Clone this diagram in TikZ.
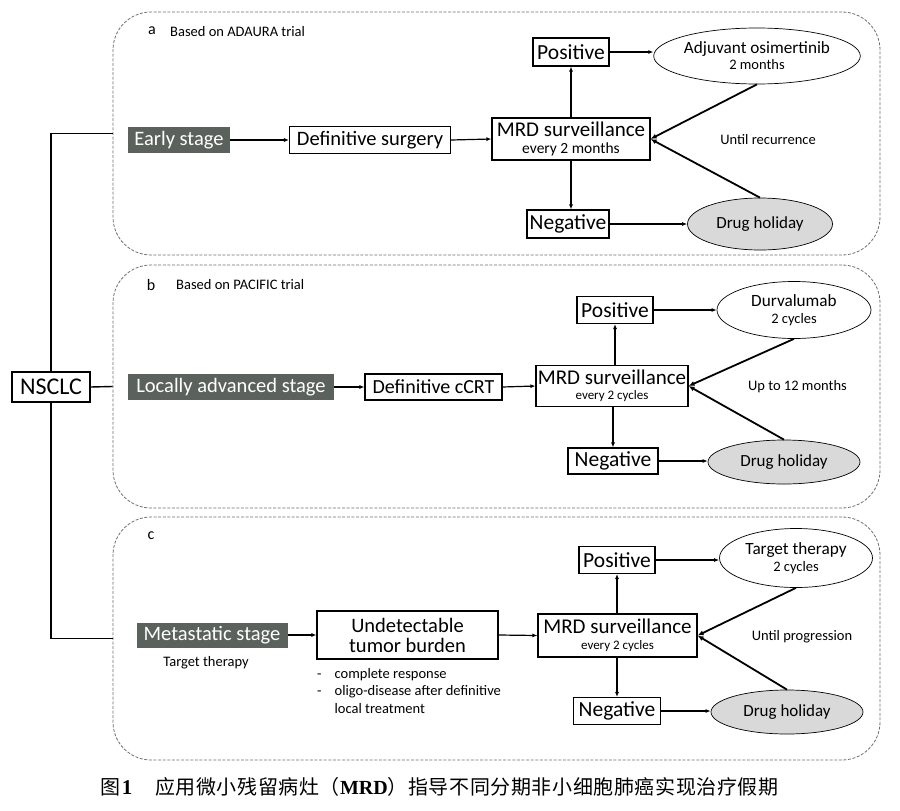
\documentclass[tikz,border=0pt]{standalone}
\usepackage{fontspec}
\setmainfont{Carlito}
\newfontfamily\cjk{Noto Sans CJK SC}
\newfontfamily\capserif{Liberation Serif}
\usetikzlibrary{shapes.geometric,arrows.meta,calc}
\definecolor{stagegrey}{HTML}{5B625E}
\definecolor{holidaygrey}{HTML}{D9D9D9}
\definecolor{dashgrey}{HTML}{6E6E6E}
\newcommand{\fs}[1]{\fontsize{#1}{#1}\selectfont}
\newcommand{\fsb}[2]{\fontsize{#1}{#2}\selectfont}
\tikzset{
  panel/.style={draw=dashgrey, dash pattern=on 3pt off 1.6pt, rounded corners=38pt, line width=0.8pt, inner sep=0},
  stagebox/.style={fill=stagegrey, text=white, inner sep=0, font=\fs{20.5}},
  plainbox/.style={draw, line width=1.1pt, inner sep=0, align=center},
  oval/.style={ellipse, draw, line width=0.7pt, inner sep=0, align=center},
  holiday/.style={oval, fill=holidaygrey, font=\fs{17}},
  arr/.style={-{Latex[length=5pt,width=4pt]}, line width=1.2pt},
  diag/.style={-{Latex[length=6pt,width=5pt]}, line width=1.8pt},
  link/.style={line width=1.4pt},
  small/.style={inner sep=0, font=\fs{14}},
}
\begin{document}
\begin{tikzpicture}[x=1pt,y=-1pt]
\useasboundingbox (0,0) rectangle (900,811);

% panels
\node[panel, minimum width=767pt, minimum height=243pt] (pa) at (496.5,133.5) {};
\node[panel, minimum width=767pt, minimum height=243pt] (pb) at (496.5,386.5) {};
\node[panel, minimum width=767pt, minimum height=243pt] (pc) at (496.5,638.5) {};

% NSCLC
\node[plainbox, minimum width=78pt, minimum height=30pt, font=\fs{24}] (nsclc) at (51,387) {NSCLC};
\draw[link] (nsclc.north) |- (pa.west);
\draw[link] (nsclc.east) -- (pb.west);
\draw[link] (nsclc.south) |- (pc.west);

% ---------- panel a
\node[inner sep=0, font=\fs{16}] (la) at (152,31) {a};
\node[small, anchor=west, font=\fs{14.5}] (ta) at (170,32) {Based on ADAURA trial};
\node[stagebox, minimum width=102pt, minimum height=26pt] (es) at (179,140) {Early stage};
\node[plainbox, minimum width=161pt, minimum height=27pt, font=\fs{20.5}] (ds) at (370,140) {Definitive surgery};
\node[plainbox, minimum width=158pt, minimum height=42pt, font=\fsb{15.5}{16.5}] (mrda) at (571,139) {{\fs{21}MRD surveillance}\\every 2 months};
\node[plainbox, minimum width=76pt, minimum height=28pt, font=\fs{21.5}] (posa) at (571,52) {Positive};
\node[oval, minimum width=191pt, minimum height=56pt, font=\fsb{14.5}{16}] (adj) at (757,56) {{\fs{17.2}Adjuvant osimertinib}\\2 months};
\node[plainbox, minimum width=82pt, minimum height=28pt, font=\fs{21.5}] (nega) at (568,224) {Negative};
\node[holiday, minimum width=145pt, minimum height=52pt] (dha) at (760,224) {Drug holiday};
\node[small, font=\fs{14.5}] (ua) at (768,140) {Until recurrence};
\draw[arr] (es.east) -- (ds.west);
\draw[arr] (ds.east) -- (mrda.west);
\draw[arr] (mrda.north) -- (mrda.north |- posa.south);
\draw[arr] (mrda.south) -- (mrda.south |- nega.north);
\draw[arr] (posa.east) -- (posa.east -| adj.west);
\draw[arr] (nega.east) -- (nega.east -| dha.west);
\draw[diag] (adj.south) -- (mrda.east);
\draw[diag] (dha.north) -- (mrda.east);

% ---------- panel b
\node[inner sep=0, font=\fs{16}] (lb) at (151,285) {b};
\node[small, anchor=west, font=\fs{14.5}] (tb) at (176,285) {Based on PACIFIC trial};
\node[stagebox, minimum width=206pt, minimum height=26pt] (las) at (231,387) {Locally advanced stage};
\node[plainbox, minimum width=137pt, minimum height=26pt, font=\fs{20}] (dcrt) at (433.5,387) {Definitive cCRT};
\node[plainbox, minimum width=152pt, minimum height=41pt, font=\fsb{13}{15.5}] (mrdb) at (612,386) {{\fs{21}MRD surveillance}\\every 2 cycles};
\node[plainbox, minimum width=76pt, minimum height=27pt, font=\fs{21.5}] (posb) at (615,310) {Positive};
\node[oval, minimum width=154pt, minimum height=57pt, font=\fsb{14.5}{17}] (durv) at (794,310) {{\fs{17.2}Durvalumab}\\2 cycles};
\node[plainbox, minimum width=90pt, minimum height=26pt, font=\fs{21.5}] (negb) at (613,461) {Negative};
\node[holiday, minimum width=152pt, minimum height=44pt] (dhb) at (784,462) {Drug holiday};
\node[small, font=\fs{14.5}] (ub) at (797.5,387) {Up to 12 months};
\draw[arr] (las.east) -- (dcrt.west);
\draw[arr] (dcrt.east) -- (mrdb.west);
\draw[arr] (mrdb.north -| posb.south) -- (posb.south);
\draw[arr] (mrdb.south -| negb.north) -- (negb.north);
\draw[arr] (posb.east) -- (posb.east -| durv.west);
\draw[arr] (negb.east) -- (negb.east -| dhb.west);
\draw[diag] (durv.south) -- (mrdb.east);
\draw[diag] (dhb.north) -- (mrdb.east);

% ---------- panel c
\node[inner sep=0, font=\fs{16}] (lc) at (151,536) {c};
\node[stagebox, minimum width=151pt, minimum height=25pt] (ms) at (212,635) {Metastatic stage};
\node[small, font=\fs{14.5}] (ttl) at (206,663) {Target therapy};
\node[plainbox, minimum width=181pt, minimum height=48pt, font=\fsb{20.5}{20}] (und) at (407.5,635) {Undetectable\\tumor burden};
\node[inner sep=0, anchor=north west, font=\fsb{14.5}{17.5}, align=left] (bul) at (317,666)
  {\begin{tabular}{@{}l@{\hspace{13pt}}l@{}}
   - & complete response\\
   - & oligo-disease after definitive\\
     & local treatment
   \end{tabular}};
\node[plainbox, minimum width=159pt, minimum height=43pt, font=\fsb{13}{15.5}] (mrdc) at (617.5,635.5) {{\fs{21}MRD surveillance}\\every 2 cycles};
\node[plainbox, minimum width=76pt, minimum height=27pt, font=\fs{21.5}] (posc) at (617,560) {Positive};
\node[oval, minimum width=153pt, minimum height=59pt, font=\fsb{14.5}{17}] (tte) at (796,558) {{\fs{17.2}Target therapy}\\2 cycles};
\node[plainbox, minimum width=87pt, minimum height=27pt, font=\fs{21.5}] (negc) at (617,711) {Negative};
\node[holiday, minimum width=152pt, minimum height=44pt] (dhc) at (787,712) {Drug holiday};
\node[small, font=\fs{14.5}] (uc) at (802,637) {Until progression};
\draw[arr] (ms.east) -- (und.west);
\draw[arr] (und.east) -- (mrdc.west);
\draw[arr] (mrdc.north -| posc.south) -- (posc.south);
\draw[arr] (mrdc.south -| negc.north) -- (negc.north);
\draw[arr] (posc.east) -- (posc.east -| tte.west);
\draw[arr] (negc.east) -- (negc.east -| dhc.west);
\draw[diag] (tte.south) -- (mrdc.east);
\draw[diag] (dhc.north) -- (mrdc.east);

% caption
\node[inner sep=0, anchor=west] (fig) at (100,787) {{\cjk\fs{20}图}\,{\capserif\bfseries\fs{21}1}};
\node[inner sep=0, anchor=west] (cap) at (155,787) {\cjk\fs{20}\addfontfeature{LetterSpace=3}应用微小残留病灶（{\capserif\bfseries MRD}）指导不同分期非小细胞肺癌实现治疗假期};
\end{tikzpicture}
\end{document}
